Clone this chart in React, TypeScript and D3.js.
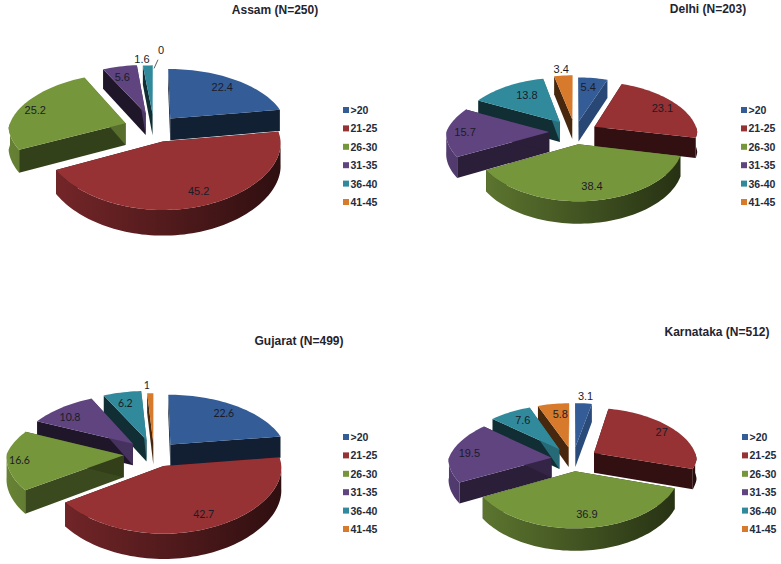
import React from "react";
import * as d3 from "d3";

const ageGroups = [">20", "21-25", "26-30", "31-35", "36-40", "41-45"];
const sliceColors = ["#345c96", "#963134", "#76963c", "#5f4480", "#318a9c", "#d77a2c"];

const assamValues = [22.4, 45.2, 25.2, 5.6, 1.6, 0];
const delhiValues = [5.4, 23.1, 38.4, 15.7, 13.8, 3.4];
const gujaratValues = [22.6, 42.7, 16.6, 10.8, 6.2, 1];
const karnatakaValues = [3.1, 27, 36.9, 19.5, 7.6, 5.8];

// pie geometry per panel, explode is a fraction of the radius like in excel
const panels = [
  {
    title: "Assam (N=250)", titleX: 275, titleY: 10, values: assamValues,
    cx: 154, cy: 128, r: 117, tilt: 0.49, persp: 0.115, depth: 22,
    explode: [0.22, 0.24, 0.26, 0.27, 0.25, 0.2],
    labelR: [0.72, 0.72, 0.72, 0.72, 1.2, 1.45],
    nudge: [[4, -3], [9, 5], [-15, -1], [-4, -2], [-5, 2], [7, 2]],
    legendX: 343, legendY: 110, labelFont: "Liberation Sans", labelSize: 11,
  },
  {
    title: "Delhi (N=203)", titleX: 708, titleY: 9, values: delhiValues,
    cx: 575, cy: 132, r: 103, tilt: 0.485, persp: 0.087, depth: 20,
    explode: [0.21, 0.22, 0.24, 0.25, 0.25, 0.26],
    labelR: [0.72, 0.72, 0.72, 0.72, 0.72, 1.15],
    nudge: [[-1, -3], [8, -2], [3, 2], [-10, 0], [6, -1], [-1, -1]],
    legendX: 741, legendY: 110, labelFont: "Liberation Sans", labelSize: 11,
  },
  {
    title: "Gujarat (N=499)", titleX: 299, titleY: 341, values: gujaratValues,
    cx: 154, cy: 454, r: 117, tilt: 0.49, persp: 0.11, depth: 22,
    explode: [0.22, 0.22, 0.26, 0.26, 0.26, 0.2],
    labelR: [0.72, 0.72, 0.72, 0.72, 0.72, 1.19],
    nudge: [[5, -3], [8, 5], [-20, 1], [-10, 0], [-3, -2], [-3, 0]],
    legendX: 343, legendY: 437, labelFont: "Lato", labelSize: 10.5,
  },
  {
    title: "Karnataka (N=512)", titleX: 717, titleY: 332, values: karnatakaValues,
    cx: 573, cy: 459, r: 103, tilt: 0.485, persp: 0.087, depth: 20,
    explode: [0.24, 0.24, 0.24, 0.21, 0.24, 0.24],
    labelR: [1.15, 0.72, 0.72, 0.72, 0.72, 0.72],
    nudge: [[1, -1], [9, -4], [5, 3], [-10, -1], [0, -2], [3, -1]],
    legendX: 742, legendY: 437, labelFont: "Liberation Sans", labelSize: 11,
  },
];

const LEGEND_STEP = 18.4;
// the back of the pie shrinks sideways much more than the front grows
const X_PERSP_BACK = 0.15;
const X_PERSP_FRONT = 0.03;
const pieLayout = d3.pie<number>().sort(null).value((d) => d);
const polygon = d3.line().curve(d3.curveLinearClosed);
const shade = (color: string, f: number) => d3.interpolateRgb("#000", color)(f);

function arcAngles(a0: number, a1: number) {
  const step = Math.PI / 90;
  return [...d3.range(a0, a1, step), a1];
}

function Pie3D({ panel, index }: { panel: (typeof panels)[number]; index: number }) {
  const { cx, cy, r, tilt, persp, depth } = panel;

  // ground point -> screen, things nearer the viewer get bigger
  const project = (u: number, v: number, h = 0): [number, number] => {
    const s = 1 / (1 - (persp * v) / r);
    const sx = 1 / (1 - ((v < 0 ? X_PERSP_BACK : X_PERSP_FRONT) * v) / r);
    return [cx + u * sx, cy + (tilt * v + h) * s];
  };

  const slices = pieLayout(panel.values).map((d, i) => {
    const mid = (d.startAngle + d.endAngle) / 2;
    const ox = panel.explode[i] * r * Math.sin(mid);
    const oy = -panel.explode[i] * r * Math.cos(mid);
    const at = (a: number, rad: number, h = 0) =>
      project(ox + rad * Math.sin(a), oy - rad * Math.cos(a), h);
    return { ...d, i, mid, at };
  });

  const gradX = d3.scaleLinear().domain([0, 1]).range([cx - r * 1.3, cx + r * 1.25]);
  const gradId = (i: number) => `rim-${index}-${i}`;

  const wallShade = (nx: number) => 0.33 + 0.5 * Math.max(0, nx) ** 2;

  // back slices first so the front ones paint over them
  const ordered = slices
    .filter((s) => s.value > 0)
    .sort((a, b) => Math.cos(b.mid) - Math.cos(a.mid));

  return (
    <g>
      <defs>
        {sliceColors.map((c, i) => (
          <linearGradient key={i} id={gradId(i)} gradientUnits="userSpaceOnUse" x1={gradX(0)} x2={gradX(1)} y1={0} y2={0}>
            <stop offset="0%" stopColor={shade(c, 0.88)} />
            <stop offset="100%" stopColor={shade(c, 0.27)} />
          </linearGradient>
        ))}
      </defs>

      {ordered.map((s) => {
        const color = sliceColors[s.i];
        const edge = (a: number) => [s.at(a, 0), s.at(a, r), s.at(a, r, depth), s.at(a, 0, depth)] as [number, number][];
        const rimFrom = Math.max(s.startAngle, Math.PI / 2);
        const rimTo = Math.min(s.endAngle, (3 * Math.PI) / 2);
        const rim =
          rimTo > rimFrom
            ? [
                ...arcAngles(rimFrom, rimTo).map((a) => s.at(a, r)),
                ...arcAngles(rimFrom, rimTo).reverse().map((a) => s.at(a, r, depth)),
              ]
            : null;
        const top = [s.at(0, 0), ...arcAngles(s.startAngle, s.endAngle).map((a) => s.at(a, r))];
        return (
          <g key={s.i}>
            <path d={polygon(edge(s.startAngle)) ?? ""} fill={shade(color, wallShade(-Math.cos(s.startAngle)))} />
            <path d={polygon(edge(s.endAngle)) ?? ""} fill={shade(color, wallShade(Math.cos(s.endAngle)))} />
            {rim && <path d={polygon(rim) ?? ""} fill={`url(#${gradId(s.i)})`} />}
            <path d={polygon(top) ?? ""} fill={color} />
          </g>
        );
      })}

      {slices.map((s) => {
        const [x, y] = s.at(s.mid, panel.labelR[s.i] * r);
        const [dx, dy] = panel.nudge[s.i];
        return (
          <text
            key={s.i}
            x={x + dx}
            y={y + dy}
            textAnchor="middle"
            dominantBaseline="central"
            fontFamily={panel.labelFont}
            fontSize={panel.labelSize}
            fill="#1c1c28"
          >
            {s.value}
          </text>
        );
      })}

      {/* leader line for the empty slice */}
      {slices
        .filter((s) => s.value === 0)
        .map((s) => {
          const [x0, y0] = s.at(s.mid, 0.98 * r);
          const [x1, y1] = s.at(s.mid, 1.18 * r);
          return <line key={s.i} x1={x0} y1={y0} x2={x1 + 4} y2={y1} stroke="#333" strokeWidth={0.8} />;
        })}

      <text x={panel.titleX} y={panel.titleY} textAnchor="middle" dominantBaseline="central" fontFamily="Liberation Sans" fontWeight="bold" fontSize={12} fill="#1f2430">
        {panel.title}
      </text>

      {ageGroups.map((g, i) => {
        const y = panel.legendY + i * LEGEND_STEP;
        return (
          <g key={g}>
            <rect x={panel.legendX} y={y - 3} width={6} height={6} fill={sliceColors[i]} />
            <text x={panel.legendX + 7.5} y={y} dominantBaseline="central" fontFamily="Liberation Sans" fontWeight="bold" fontSize={10.5} fill="#232c3c">
              {g}
            </text>
          </g>
        );
      })}
    </g>
  );
}

export default function App() {
  return (
    <svg width={781} height={564} style={{ position: "absolute", left: 0, top: 0, background: "#fff" }}>
      {panels.map((p, i) => (
        <Pie3D key={p.title} panel={p} index={i} />
      ))}
    </svg>
  );
}
